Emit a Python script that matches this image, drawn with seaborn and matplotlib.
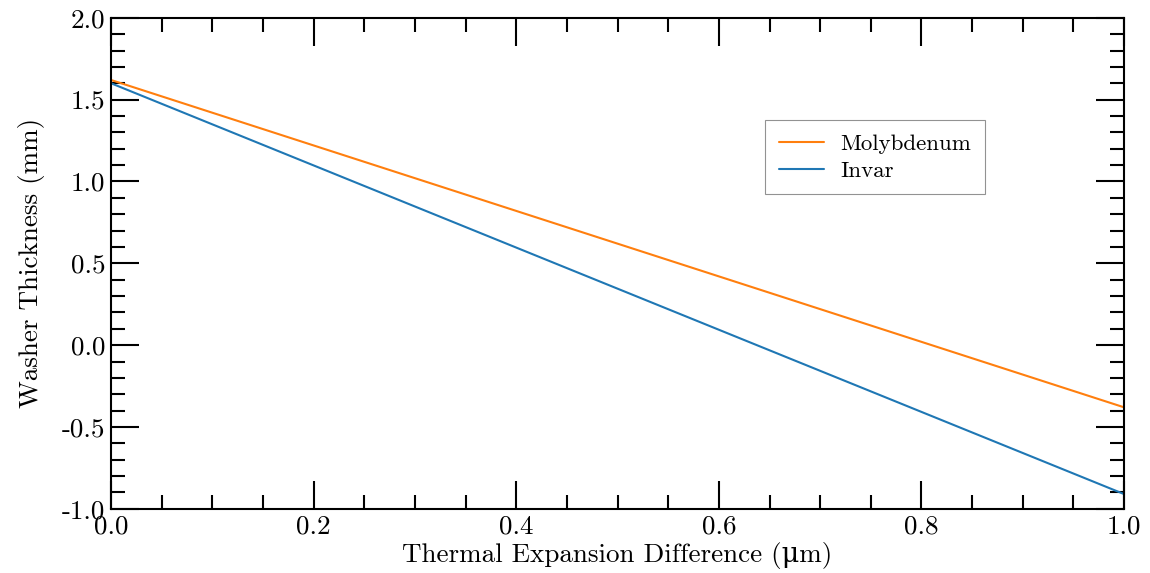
import matplotlib
matplotlib.use("Agg")
import matplotlib.pyplot as plt
from matplotlib.ticker import MultipleLocator, FormatStrFormatter
import pandas as pd
import seaborn as sns

# Washer thickness vs. thermal expansion difference for two washer materials
expansion_um = [0.0, 1.0]
molybdenum_mm = [1.62, -0.38]
invar_mm = [1.60, -0.91]
materials = ["Molybdenum", "Invar"]
colors = ["#ff7f0e", "#1f77b4"]

df = pd.concat([
    pd.DataFrame({"x": expansion_um, "y": molybdenum_mm, "material": materials[0]}),
    pd.DataFrame({"x": expansion_um, "y": invar_mm, "material": materials[1]}),
], ignore_index=True)

sns.set_style("ticks")
plt.rcParams["font.family"] = ["cmr10", "DejaVu Serif"]
plt.rcParams["axes.unicode_minus"] = False
plt.rcParams["mathtext.fontset"] = "cm"
plt.rcParams["text.color"] = "black"
plt.rcParams["axes.labelcolor"] = "black"
plt.rcParams["xtick.color"] = "black"
plt.rcParams["ytick.color"] = "black"

fig, ax = plt.subplots(figsize=(11.5, 5.73), dpi=100)
fig.subplots_adjust(left=0.0965, right=0.9775, top=0.969, bottom=0.112)

sns.lineplot(data=df, x="x", y="y", hue="material", hue_order=materials,
             palette=colors, linewidth=1.5, ax=ax, estimator=None)

ax.set_xlim(0, 1)
ax.set_ylim(-1, 2)
ax.xaxis.set_major_locator(MultipleLocator(0.2))
ax.xaxis.set_minor_locator(MultipleLocator(0.05))
ax.yaxis.set_major_locator(MultipleLocator(0.5))
ax.yaxis.set_minor_locator(MultipleLocator(0.1))
ax.xaxis.set_major_formatter(FormatStrFormatter("%.1f"))
ax.yaxis.set_major_formatter(FormatStrFormatter("%.1f"))

ax.tick_params(which="both", direction="in", top=True, right=True,
               width=1.5, color="black", labelcolor="black")
ax.tick_params(which="major", length=20, labelsize=19.5, pad=4)
ax.tick_params(which="minor", length=10)
for s in ax.spines.values():
    s.set_linewidth(1.5)
    s.set_color("black")

ax.set_xlabel("Thermal Expansion Difference (μm)", fontsize=19.5, labelpad=3)
ax.set_ylabel("Washer Thickness (mm)", fontsize=19.5, labelpad=12)

leg = ax.legend(loc="upper left", bbox_to_anchor=(0.6456, 0.792), fontsize=16.5,
                frameon=True, fancybox=False, edgecolor="#777777",
                handlelength=1.95, borderpad=0.6, labelspacing=0.3,
                handletextpad=0.75, borderaxespad=0)
leg.get_frame().set_linewidth(0.8)

fig.savefig("out.png", dpi=100, facecolor="white")
